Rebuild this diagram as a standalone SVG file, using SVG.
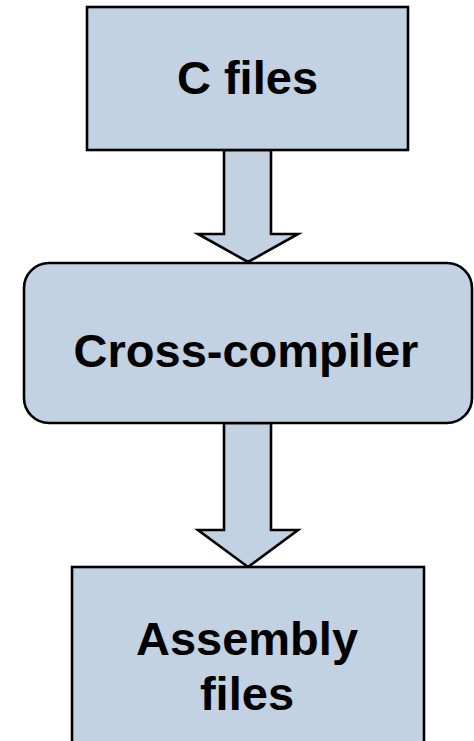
<svg xmlns="http://www.w3.org/2000/svg" width="474" height="741" viewBox="0 0 474 741">
  <style>
    .box { fill: #c2d2e2; stroke: #000; stroke-width: 2.6; }
    .arrow { fill: #c2d2e2; stroke: #000; stroke-width: 2.6; stroke-linejoin: miter; }
    .label { font-family: "Liberation Sans", Arial, sans-serif; font-weight: bold; font-size: 47px; fill: #000; text-anchor: middle; }
  </style>
  <rect width="474" height="741" fill="#fff"/>
  <g id="connectors">
    <polygon class="arrow" points="224,150 271,150 271,234 298,234 248,262 198,234 224,234"/>
    <polygon class="arrow" points="224,423 271,423 271,530 298,530 248,567 198,530 224,530"/>
  </g>
  <g id="c-files">
    <rect class="box" x="87" y="7" width="321" height="143"/>
    <text class="label" x="247.5" y="94">C files</text>
  </g>
  <g id="cross-compiler">
    <rect class="box" x="24" y="263" width="448" height="160" rx="25" ry="25"/>
    <text class="label" x="246" y="367">Cross-compiler</text>
  </g>
  <g id="assembly-files">
    <rect class="box" x="72" y="567" width="352" height="200"/>
    <text class="label" x="247" y="655">Assembly</text>
    <text class="label" x="247" y="710">files</text>
  </g>
</svg>
